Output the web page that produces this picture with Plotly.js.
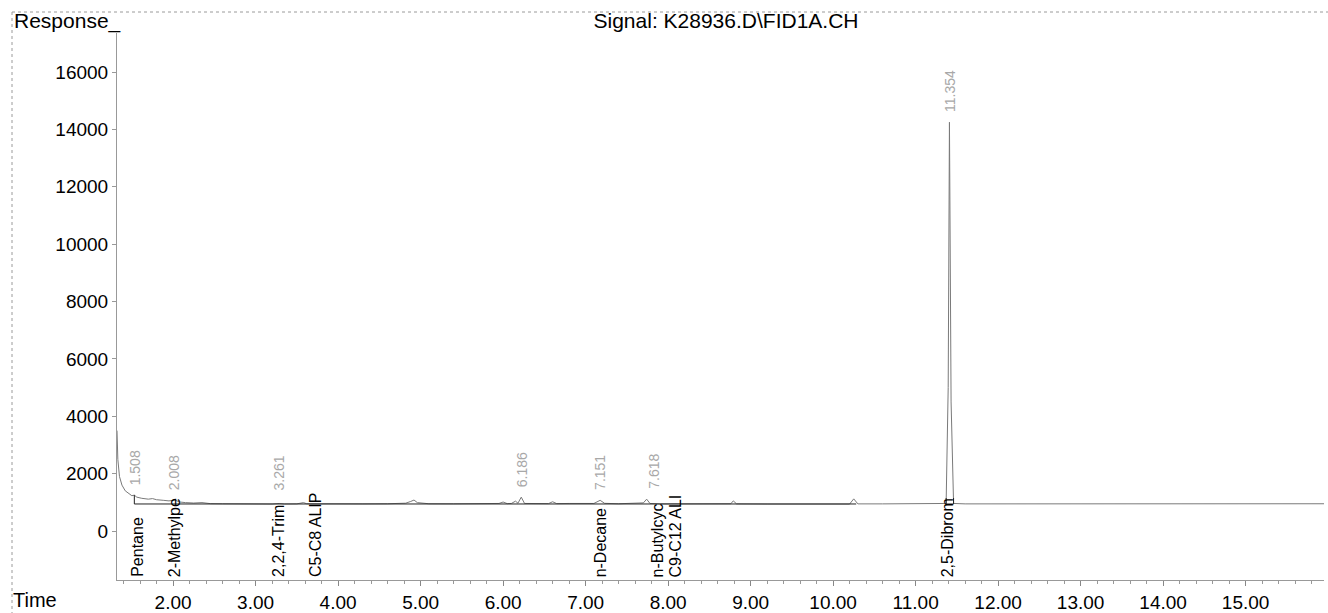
<!DOCTYPE html>
<html>
<head>
<meta charset="utf-8">
<script src="https://cdn.plot.ly/plotly-3.0.1.min.js"></script>
<style>html,body{margin:0;padding:0;background:#fff;}#chart{width:1328px;height:613px;}</style>
</head>
<body>
<div id="chart"></div>
<script>
// ---- data ----
const timeMin = [1.32,1.33,1.35,1.38,1.42,1.46,1.50,1.53,1.56,1.62,1.70,1.75,1.80,1.88,1.95,2.02,2.08,2.15,2.25,2.35,2.45,2.60,2.80,3.00,3.20,3.285,3.35,3.50,3.58,3.62,3.80,4.00,4.30,4.60,4.82,4.88,4.92,4.96,5.10,5.40,5.70,5.95,6.00,6.05,6.10,6.15,6.18,6.22,6.26,6.40,6.55,6.60,6.65,6.80,7.00,7.10,7.176,7.23,7.40,7.60,7.70,7.74,7.78,7.90,8.20,8.50,8.76,8.79,8.83,9.20,9.60,10.00,10.20,10.25,10.30,10.60,11.00,11.30,11.37,11.395,11.41,11.43,11.46,11.60,12.00,12.50,13.00,13.50,14.00,14.50,15.00,15.50,15.95];
const response = [3500,2500,1900,1600,1400,1300,1230,1250,1180,1140,1110,1130,1090,1070,1050,1080,1010,990,975,990,955,950,945,945,940,960,942,945,990,950,945,942,945,950,970,1030,1080,990,950,948,945,960,1010,955,960,1040,970,1180,960,950,955,1020,955,960,950,960,1070,965,950,955,980,1110,960,945,945,940,950,1050,945,940,938,938,940,1120,945,945,945,945,960,5000,14250,4500,960,945,945,948,950,950,948,950,950,950,950];

// integration baselines (black)
const baseT = [1.53,1.53,10.28,null,11.37,11.37,11.46,11.46];
const baseR = [1250,942,942,null,1150,942,942,1150];

// retention-time labels (grey) and where they are drawn
const rtText = ["1.508","2.008","3.261","6.186","7.151","7.618","11.354"];
const rtTime = [1.535,2.02,3.285,6.225,7.176,7.83,11.415];
const rtPeak = [1250,1080,960,1180,1070,1110,14250];

// compound names (black) and where they are drawn
const compText = ["Pentane","2-Methylpe","2,2,4-Trim","C5-C8 ALIP","n-Decane","n-Butylcyc","C9-C12 ALI","2,5-Dibrom"];
const compTime = [1.56,2.02,3.27,3.72,7.185,7.87,8.095,11.39];

const yTicks = [0,2000,4000,6000,8000,10000,12000,14000,16000];

// ---- layout geometry ----
const W = 1328, H = 613;
const L = 117, R = 4, T = 33, B = 33;
const pw = W - L - R, ph = H - T - B;
const px2paperX = x => (x - L) / pw;
const py2paperY = y => (H - B - y) / ph;
const FONT = "Liberation Sans, Arial, sans-serif";

const traces = [
  {x: timeMin, y: response, type: 'scatter', mode: 'lines',
   line: {color: '#7a7a7a', width: 1}, hoverinfo: 'x+y'},
  {x: baseT, y: baseR, type: 'scatter', mode: 'lines',
   line: {color: '#222', width: 1}, connectgaps: false, hoverinfo: 'skip'}
];

const annotations = [];
rtText.forEach((t, i) => {
  annotations.push({x: rtTime[i], y: Math.max(1330, rtPeak[i] + 280), xref: 'x', yref: 'y',
    text: t, textangle: -90, showarrow: false, xanchor: 'center', yanchor: 'bottom',
    font: {family: FONT, size: 14, color: '#a8a8a8'}});
});
compText.forEach((t, i) => {
  annotations.push({x: compTime[i], y: 0, xref: 'x', yref: 'paper',
    text: t, textangle: -90, showarrow: false, xanchor: 'center', yanchor: 'bottom', yshift: 1,
    font: {family: FONT, size: 16, color: '#000'}});
});
annotations.push({x: px2paperX(12), y: py2paperY(21), xref: 'paper', yref: 'paper',
  text: 'Response_', showarrow: false, xanchor: 'left', yanchor: 'middle',
  font: {family: FONT, size: 21, color: '#000'}});
annotations.push({x: px2paperX(11), y: py2paperY(600), xref: 'paper', yref: 'paper',
  text: 'Time', showarrow: false, xanchor: 'left', yanchor: 'middle',
  font: {family: FONT, size: 20, color: '#000'}});

const shapes = [
  {type: 'line', xref: 'paper', yref: 'paper', x0: px2paperX(12), x1: px2paperX(W), y0: py2paperY(12), y1: py2paperY(12),
   line: {color: '#9a9a9a', width: 1, dash: 'dot'}},
  {type: 'line', xref: 'paper', yref: 'paper', x0: px2paperX(12), x1: px2paperX(12), y0: py2paperY(12), y1: py2paperY(H),
   line: {color: '#9a9a9a', width: 1, dash: 'dot'}}
];

const layout = {
  width: W, height: H,
  margin: {l: L, r: R, t: T, b: B, pad: 0},
  paper_bgcolor: '#fff', plot_bgcolor: '#fff',
  showlegend: false,
  title: {text: 'Signal: K28936.D\\FID1A.CH', x: 726 / W, xanchor: 'center', y: 1 - 21 / H, yanchor: 'middle',
          font: {family: FONT, size: 21, color: '#000'}},
  xaxis: {range: [1.32, 15.95], tickmode: 'linear', tick0: 0, dtick: 1, tickformat: '.2f',
          ticks: 'outside', ticklen: 5, tickcolor: '#888', tickwidth: 1,
          minor: {tickmode: 'linear', tick0: 0, dtick: 0.2, ticks: 'outside', ticklen: 3, tickcolor: '#999', showgrid: false},
          showline: true, linecolor: '#999', linewidth: 1, showgrid: false, zeroline: false,
          tickfont: {family: FONT, size: 19, color: '#000'}},
  yaxis: {range: [-1708, 17360], tickmode: 'array', tickvals: yTicks, ticktext: yTicks.map(String),
          ticks: 'outside', ticklen: 4, tickcolor: '#999', tickwidth: 1,
          showline: true, linecolor: '#999', linewidth: 1, showgrid: false, zeroline: false,
          tickfont: {family: FONT, size: 19, color: '#000'}},
  annotations: annotations,
  shapes: shapes
};

Plotly.newPlot('chart', traces, layout, {displayModeBar: false, staticPlot: true});
</script>
</body>
</html>
